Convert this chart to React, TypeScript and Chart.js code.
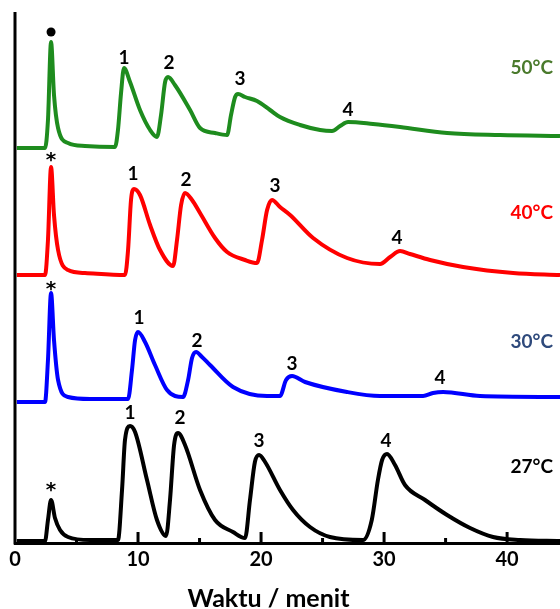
import React, { useEffect, useRef } from "react";
import { Chart, registerables } from "chart.js";

Chart.register(...registerables);

const FONT = "Lato, 'Open Sans', 'DejaVu Sans', sans-serif";

const X_MIN = 0;
const X_MAX = 44.3;
const Y_MAX = 531;
const X_AXIS_TITLE = "Waktu / menit";
const X_TITLE_CENTER = 20.6;
const X_TICK_LABELS = [0, 10, 20, 30, 40];
const MAJOR_TICKS = [10, 20, 30, 40];
const MINOR_TICKS = [5, 15, 25, 35];

const SERIES_NAMES = ["27°C", "30°C", "40°C", "50°C"];
const SERIES_COLORS = ["#000000", "#0000ff", "#ff0000", "#1e8c1e"];
const NAME_COLORS = ["#000000", "#2f4a7c", "#ff0000", "#4a7a2c"];
const BASELINE_OFFSETS = [2, 141, 268, 395];
const NAME_TIME = 42.0;
const NAME_HEIGHTS = [74, 60, 62, 80];

const TIME_27 = [0.15, 2.44, 2.68, 2.93, 3.25, 3.66, 4.31, 6.1, 8.37, 8.7, 8.94, 9.35, 9.76, 10.73, 11.54, 12.28, 12.6, 12.93, 13.25, 13.82, 15.04, 16.26, 17.72, 18.7, 19.1, 19.5, 19.84, 20.33, 21.54, 22.6, 23.98, 25.6, 28.29, 29.0, 29.5, 29.84, 30.24, 30.89, 31.7, 33.33, 35.12, 36.99, 38.86, 41.06, 44.3];
const SIGNAL_27 = [0, 0, 21, 41, 23, 11, 4, 1, 1, 51, 101, 115, 109, 61, 21, 5, 41, 96, 108, 96, 51, 21, 9, 3, 41, 79, 86, 79, 51, 31, 14, 4, 1, 21, 61, 81, 87, 76, 56, 41, 26, 13, 4, 1, 0];

const TIME_30 = [0.15, 2.44, 2.68, 2.93, 3.17, 3.5, 4.31, 6.1, 9.19, 9.51, 9.76, 10.0, 10.57, 11.38, 12.36, 13.66, 14.07, 14.39, 14.72, 15.2, 15.85, 17.72, 20.49, 21.54, 22.03, 22.52, 23.58, 26.99, 29.67, 33.17, 33.98, 34.8, 37.8, 44.3];
const SIGNAL_30 = [0, 0, 42, 109, 62, 22, 5, 3, 3, 32, 62, 70, 60, 37, 12, 5, 22, 44, 50, 45, 37, 15, 6, 6, 22, 26, 20, 10, 6, 6, 9, 10, 6, 5];

const TIME_40 = [0.15, 2.44, 2.68, 2.93, 3.17, 3.5, 4.31, 5.69, 8.94, 9.19, 9.43, 9.67, 10.16, 10.98, 11.79, 12.85, 13.17, 13.5, 13.82, 14.39, 15.04, 16.26, 17.24, 18.7, 19.67, 20.08, 20.49, 20.89, 21.54, 22.36, 24.23, 26.99, 29.67, 30.49, 31.3, 32.11, 33.74, 36.42, 40.49, 44.3];
const SIGNAL_40 = [0, 0, 35, 108, 60, 25, 5, 2, 0, 25, 75, 86, 80, 50, 25, 9, 35, 70, 82, 75, 62, 37, 23, 15, 12, 35, 65, 75, 68, 60, 37, 17, 11, 18, 24, 21, 15, 8, 2, 0];

const TIME_50 = [0.15, 2.44, 2.68, 2.93, 3.17, 3.5, 4.31, 5.69, 8.13, 8.37, 8.62, 8.86, 9.35, 10.16, 10.98, 11.54, 11.87, 12.2, 12.44, 13.0, 14.23, 15.04, 16.26, 17.24, 17.56, 17.89, 18.13, 18.7, 19.67, 20.73, 21.54, 23.17, 24.8, 25.77, 26.42, 27.07, 29.1, 31.3, 35.12, 39.43, 44.3];
const SIGNAL_50 = [0, 0, 28, 106, 53, 20, 5, 2, 1, 18, 55, 80, 66, 38, 18, 11, 33, 66, 71, 63, 38, 20, 15, 13, 33, 51, 54, 51, 47, 38, 31, 23, 18, 17, 22, 26, 24, 21, 15, 13, 12];

const PEAK_TEXT = ["*", "1", "2", "3", "4"];
const PEAK_TIMES_27 = [2.93, 9.35, 13.41, 19.84, 30.16];
const PEAK_LABEL_HEIGHTS_27 = [53, 128, 123, 100, 100];
const PEAK_TIMES_30 = [2.93, 10.08, 14.8, 22.52, 34.55];
const PEAK_LABEL_HEIGHTS_30 = [115, 84, 61, 38, 24];
const PEAK_TIMES_40 = [2.93, 9.59, 13.9, 21.14, 31.06];
const PEAK_LABEL_HEIGHTS_40 = [117, 101, 95, 89, 37];
const PEAK_TIMES_50 = [2.93, 8.86, 12.52, 18.29, 27.07];
const PEAK_LABEL_HEIGHTS_50 = [116, 90, 85, 69, 38];

const TIMES = [TIME_27, TIME_30, TIME_40, TIME_50];
const SIGNALS = [SIGNAL_27, SIGNAL_30, SIGNAL_40, SIGNAL_50];
const PEAK_TIMES = [PEAK_TIMES_27, PEAK_TIMES_30, PEAK_TIMES_40, PEAK_TIMES_50];
const PEAK_HEIGHTS = [PEAK_LABEL_HEIGHTS_27, PEAK_LABEL_HEIGHTS_30, PEAK_LABEL_HEIGHTS_40, PEAK_LABEL_HEIGHTS_50];

const decorPlugin = {
  id: "decor",
  afterDraw(chart: any) {
    const { ctx, chartArea, scales } = chart;
    const xs = scales.x;
    const ys = scales.y;
    ctx.save();
    ctx.strokeStyle = "#000";
    ctx.lineWidth = 3;
    ctx.beginPath();
    ctx.moveTo(chartArea.left, chartArea.top);
    ctx.lineTo(chartArea.left, chartArea.bottom + 1.5);
    ctx.stroke();
    const yb = chartArea.bottom;
    MAJOR_TICKS.forEach((v) => {
      const px = xs.getPixelForValue(v);
      ctx.beginPath();
      ctx.moveTo(px, yb);
      ctx.lineTo(px, yb - 11);
      ctx.stroke();
    });
    MINOR_TICKS.forEach((v) => {
      const px = xs.getPixelForValue(v);
      ctx.beginPath();
      ctx.moveTo(px, yb);
      ctx.lineTo(px, yb - 5);
      ctx.stroke();
    });
    ctx.textAlign = "center";
    ctx.textBaseline = "middle";
    ctx.fillStyle = "#000";
    // axis title
    ctx.font = `bold 25px ${FONT}`;
    ctx.fillText(X_AXIS_TITLE, xs.getPixelForValue(X_TITLE_CENTER), chartArea.bottom + 56);
    PEAK_TIMES.forEach((times, s) => {
      times.forEach((t, i) => {
        const px = xs.getPixelForValue(t);
        const py = ys.getPixelForValue(BASELINE_OFFSETS[s] + PEAK_HEIGHTS[s][i]);
        if (i === 0 && s === 3) {
          ctx.beginPath();
          ctx.arc(px, py, 4.5, 0, Math.PI * 2);
          ctx.fill();
        } else if (i === 0) {
          ctx.font = `bold 20px 'DejaVu Sans', sans-serif`;
          ctx.fillText(PEAK_TEXT[i], px, py + 3);
        } else {
          ctx.font = `bold 19px ${FONT}`;
          ctx.fillText(PEAK_TEXT[i], px, py);
        }
      });
    });
    ctx.font = `bold 19px ${FONT}`;
    SERIES_NAMES.forEach((name, s) => {
      ctx.fillStyle = NAME_COLORS[s];
      ctx.fillText(
        name,
        xs.getPixelForValue(NAME_TIME),
        ys.getPixelForValue(BASELINE_OFFSETS[s] + NAME_HEIGHTS[s])
      );
    });
    ctx.restore();
  },
};

export default function App() {
  const ref = useRef<HTMLCanvasElement>(null);
  useEffect(() => {
    if (!ref.current) return;
    const chart = new Chart(ref.current, {
      type: "line",
      data: {
        datasets: SERIES_NAMES.map((name, s) => ({
          label: name,
          data: TIMES[s].map((t, i) => ({ x: t, y: BASELINE_OFFSETS[s] + SIGNALS[s][i] })),
          borderColor: SERIES_COLORS[s],
          borderWidth: 4,
          pointRadius: 0,
          fill: false,
          cubicInterpolationMode: "monotone" as const,
        })),
      },
      options: {
        animation: false,
        responsive: false,
        devicePixelRatio: 1,
        layout: { padding: { left: 15, top: 12, right: 0, bottom: 0 } },
        plugins: { legend: { display: false }, tooltip: { enabled: false } },
        scales: {
          x: {
            type: "linear",
            min: X_MIN,
            max: X_MAX,
            afterBuildTicks: (axis: any) => {
              axis.ticks = X_TICK_LABELS.map((v) => ({ value: v }));
            },
            afterFit: (axis: any) => {
              axis.height = 66;
            },
            grid: { display: false, drawTicks: false },
            border: { display: true, color: "#000", width: 3 },
            ticks: {
              color: "#000",
              autoSkip: false,
              maxRotation: 0,
              font: { family: FONT, size: 20, weight: "bold" },
              padding: 5,
            },
            title: { display: false },
          },
          y: { display: false, min: 0, max: Y_MAX },
        },
      },
      plugins: [decorPlugin],
    });
    return () => chart.destroy();
  }, []);
  return (
    <div style={{ position: "absolute", left: 0, top: 0, width: 560, height: 609, background: "#fff" }}>
      <canvas ref={ref} width={560} height={609} style={{ display: "block" }} />
    </div>
  );
}
